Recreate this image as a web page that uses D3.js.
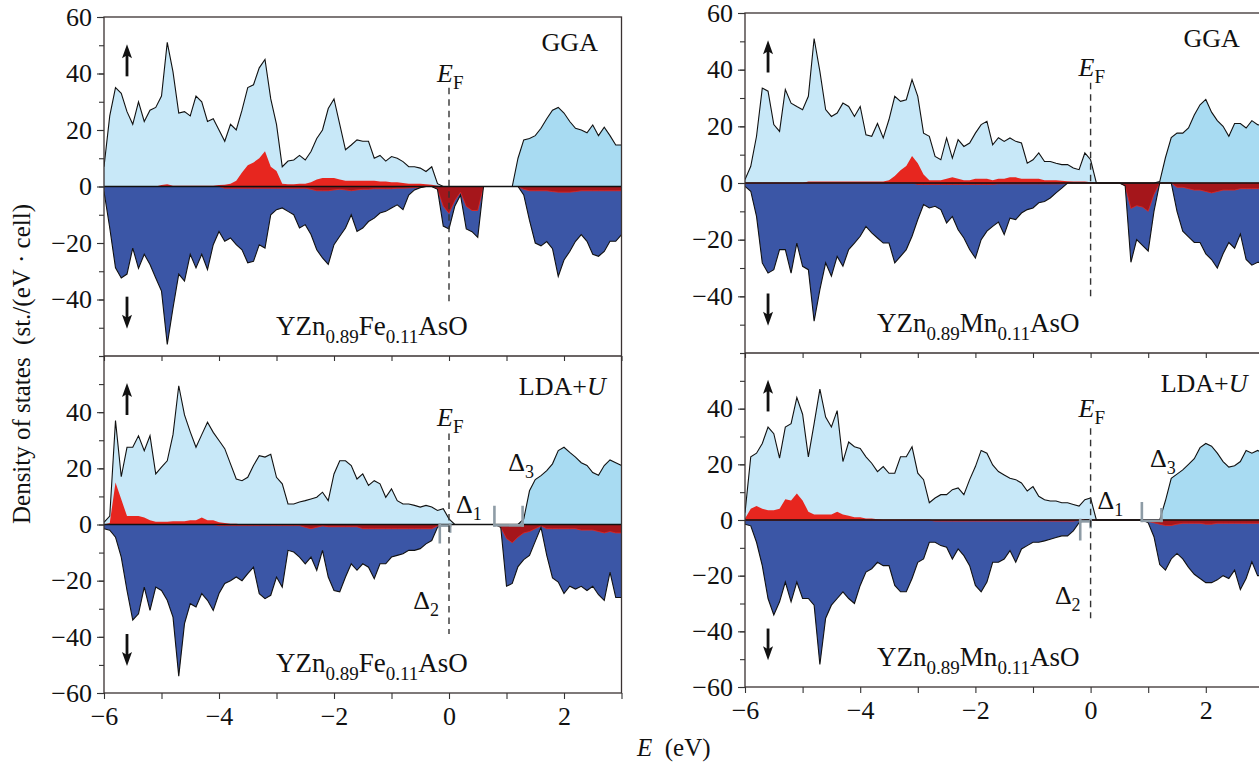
<!DOCTYPE html>
<html>
<head>
<meta charset="utf-8">
<script src="https://cdn.jsdelivr.net/npm/d3@7"></script>
<style>
  body { margin: 0; background: #fff; }
  svg { display: block; }
</style>
</head>
<body>
<svg id="chart" width="1259" height="762"></svg>
<script>
// energy grid, eV
var energy = [
  -6.0,-5.9,-5.8,-5.7,-5.6,-5.5,-5.4,-5.3,-5.2,-5.1,
  -5.0,-4.9,-4.8,-4.7,-4.6,-4.5,-4.4,-4.3,-4.2,-4.1,
  -4.0,-3.9,-3.8,-3.7,-3.6,-3.5,-3.4,-3.3,-3.2,-3.1,
  -3.0,-2.9,-2.8,-2.7,-2.6,-2.5,-2.4,-2.3,-2.2,-2.1,
  -2.0,-1.9,-1.8,-1.7,-1.6,-1.5,-1.4,-1.3,-1.2,-1.1,
  -1.0,-0.9,-0.8,-0.7,-0.6,-0.5,-0.4,-0.3,-0.2,-0.1,
  0.0,0.1,0.2,0.3,0.4,0.5,0.6,0.7,0.8,0.9,
  1.0,1.1,1.2,1.3,1.4,1.5,1.6,1.7,1.8,1.9,
  2.0,2.1,2.2,2.3,2.4,2.5,2.6,2.7,2.8,2.9,
  3.0
];

// YZn0.89Fe0.11AsO, GGA  (total spin up / down, Fe partial up / down)
var feUpGGA = [
  7,25,35,33,26.5,22,30,23,27,28,
  32,51,40.6,26,26.5,25,32,30,23,24,
  20,16,22,20,27,35,36,42,45,31,
  22,7,9,9.4,11,9.4,12.4,17,20,27.6,
  31,22,13,14.7,16.5,16,16,10,11,9,
  10.6,10,8.8,7,7,6.5,5.3,7,1,0,
  0,0,0,0,0,0,0,0,0,0,
  0,0,10,16.5,17,18,20.6,24,27,28,
  26,23,20.6,20,19,21.8,18,21,18,14.7,
  14.7
];
var feDnGGA = [
  -1.8,-14.7,-28.8,-32.4,-31,-21.8,-29,-24,-27.6,-32.4,
  -37,-55.9,-43,-31,-33.5,-24,-28.8,-24,-29.4,-20.6,
  -15.9,-19.4,-18.2,-20.6,-22.4,-27,-26.5,-20.6,-21.8,-10,
  -8.2,-7.6,-8.8,-10,-14.7,-13.5,-17,-22.4,-25.3,-27.6,
  -20.6,-17.6,-14.7,-10,-15.9,-14.7,-12.4,-11.2,-9.4,-8.8,
  -7.6,-6.5,-8.2,-3,-1.2,-0.4,0,0,-1,-14,
  -15,-7,-3,-15,-16,-18,0,0,0,0,
  0,0,0,-3,-12,-20,-21,-19.5,-22,-31.8,
  -26,-23,-19.4,-17,-19.4,-24,-24.7,-23,-19.4,-19.4,
  -17
];
var feUpGGAp = [
  0,0,0,0,0,0,0,0,0,0,
  0.5,0.8,0.3,0.3,0.3,0.3,0.3,0.3,0.3,0.3,
  0.5,0.6,1,2,5,7.5,8.5,10,12.5,7,
  5.5,1,0.8,0.8,1,1,1.5,2.5,3,3,
  3,2.5,2,2,2,2,2,2,1.8,1.8,
  1.5,1.5,1.2,1,1,1,0.8,0.6,0.3,0,
  0,0,0,0,0,0,0,0,0,0,
  0,0,0,0,0,0,0,0,0,0,
  0,0,0,0,0,0,0,0,0,0,
  0
];
var feDnGGAp = [
  0,0,0,0,0,0,0,0,0,0,
  0,0,0,0,0,0,0,0,0,0,
  0,-0.6,-0.6,-0.6,-0.6,-0.6,-0.6,-0.6,-0.6,-0.6,
  -0.6,-0.6,-0.6,-0.6,-0.6,-0.6,-1,-1.5,-1.5,-1.5,
  -1.2,-1,-1.2,-1.5,-1.2,-1,-1,-0.8,-0.8,-0.8,
  -0.8,-0.6,-0.6,-0.5,-0.4,-0.3,0,0,-0.8,-7,
  -9.5,-5,-2,-7,-8.5,-8.5,0,0,0,0,
  0,0,0,-1,-1.5,-1.5,-1.5,-1.5,-1.8,-2,
  -2,-2,-1.8,-1.5,-1.5,-1.5,-1.5,-1.5,-1.5,-1.5,
  -1.5
];

// YZn0.89Fe0.11AsO, LDA+U
var feUpLDA = [
  0.8,3,37,17,27.5,27.5,31.6,26.3,31.6,18,
  20.4,22.7,32,49.4,39,33,27.5,32,36.4,32.8,
  29.9,27,21.6,16.2,15.6,16.8,21,24.5,24,25,
  16.8,14.5,7.3,7.3,8,8.5,9.1,9.7,11.5,8.5,
  18,22.7,22.7,21,16.2,18,13.9,15.6,14.5,9.7,
  12.7,8.5,7.3,7.3,6.8,6.2,6.8,6.2,5,5.6,
  2,0,0,0,0,0,0,0,0,0,
  0,0,0,2,12,16,17.4,19.2,21.6,26.3,
  27.5,25.7,24,22,21,18.5,17.5,21,23,22,
  21
];
var feDnLDA = [
  -1.5,-2,-4.5,-11.6,-23.5,-34,-31.8,-22.3,-30.6,-22.3,
  -23.5,-27,-33,-54,-35.3,-28.2,-29.4,-24.6,-27,-30.6,
  -24.6,-21,-20,-18.7,-20,-17.5,-15.2,-24.6,-26.4,-25.2,
  -18.7,-22.3,-9.2,-9.8,-11.6,-14,-11.6,-16.3,-9.2,-18.7,
  -23.5,-24,-18.7,-14,-16.3,-14,-15.2,-19.3,-14,-14,
  -11.6,-11,-10.4,-9.2,-9.2,-8.6,-6.9,-5.7,-1,0,
  0,0,0,0,0,0,0,0,0,-1,
  -22,-21,-15,-12.5,-11,-6,-1,-11,-19,-20.5,
  -24.6,-22,-23,-22,-23.5,-22,-25,-27,-17,-26,
  -26
];
var feUpLDAp = [
  0,0.5,15,9,3,3,3,2.5,1.5,1,
  1,1,1.2,1.2,1.2,1.5,1.5,2.5,1.5,1.5,
  0.8,0.5,0.3,0.3,0,0,0,0,0,0,
  0,0,0,0,0,0,0,0,0,0,
  0,0,0,0,0,0,0,0,0,0,
  0,0,0,0,0,0,0,0,0,0,
  0,0,0,0,0,0,0,0,0,0,
  0,0,0,0,0,0,0,0,0,0,
  0,0,0,0,0,0,0,0,0,0,
  0
];
var feDnLDAp = [
  0,0,0,0,0,0,0,0,0,0,
  0,0,0,0,0,0,0,0,0,0,
  -0.4,-0.4,-0.4,-0.4,-0.4,-0.4,-0.4,-0.4,-0.4,-0.4,
  -0.4,-0.4,-0.4,-0.4,-0.4,-1,-1.5,-1,-0.5,-0.8,
  -0.8,-0.8,-0.8,-0.8,-0.8,-1.5,-1.5,-1.5,-1.5,-1.5,
  -1.5,-1.5,-1.5,-1.5,-1.5,-1.5,-1.5,-1.5,-0.5,0,
  0,0,0,0,0,0,0,0,0,-1,
  -5,-6.5,-4.5,-3,-2.5,-1.5,-0.5,-1.5,-1.5,-1.5,
  -1.5,-1.5,-1.5,-2,-2,-2,-2.5,-3,-2.5,-3,
  -3
];

// YZn0.89Mn0.11AsO, GGA
var mnUpGGA = [
  1.2,5.9,16.5,33.5,32.4,20.6,18.2,33,28.2,27,
  25.9,30.6,51,39.4,25.9,23.5,24.7,28.2,27,23.5,
  27,17,16.5,21,15.9,22.4,30.6,28.8,29.4,36.5,
  30.6,17.6,16.5,9.4,8.2,15.9,8.8,15.3,12.9,14.1,
  17.6,20.6,21.8,13.5,16,14.7,15.9,14.7,14.1,7,
  8.2,10.6,7.6,7.6,7,6.5,6.5,5.3,4.7,10.6,
  8.2,0,0,0,0,0,0,0,0,0,
  0,0,0.5,9,16,17.6,17.6,19.4,24,27.6,
  29.5,25,22,20,16.5,21,21,19.4,22,20.6,
  20
];
var mnDnGGA = [
  -1.2,-2.9,-11.8,-28.2,-31.8,-30.6,-23.5,-23.5,-31.8,-21.2,
  -29.4,-30.6,-48.8,-37.6,-28.2,-32.9,-25.9,-29.4,-23.5,-21.2,
  -18.8,-15.3,-17.6,-19.4,-21.2,-21.2,-28.2,-25.9,-23.5,-18.8,
  -12.9,-7.6,-8.8,-8.2,-9.4,-14.1,-11.8,-16.5,-19.4,-23.5,
  -26.5,-20,-17,-15.3,-13.8,-18.2,-12.4,-12.9,-10.6,-9.4,
  -8.8,-7,-6.5,-5.3,-3.5,-1.8,0,0,0,0,
  0,0,0,0,0,0,-1,-28,-20,-22,
  -24,-10,0,0,0,-10,-17,-19,-21,-21,
  -25,-27,-30,-25,-21,-23,-18,-27,-29,-28,
  -28
];
var mnUpGGAp = [
  0,0,0,0,0,0,0,0,0,0,
  0,0.5,0.5,0.5,0.5,0.5,0.5,0.5,0.5,0.5,
  0.5,0.5,0.5,0.5,0.5,1,2.5,4.5,6,9.5,
  7,3,1,1,1,1.5,2,1.5,1,1,
  1.5,1.5,1.5,1,1.5,1.5,2,2,1.5,1.5,
  1.5,1.5,1,1,1,0.8,0.6,0.5,0.5,0.5,
  0.3,0,0,0,0,0,0,0,0,0,
  0,0,0,0,0,0,0,0,0,0,
  0,0,0,0,0,0,0,0,0,0,
  0
];
var mnDnGGAp = [
  0,0,0,0,0,0,0,0,0,0,
  0,0,0,0,0,0,0,0,0,0,
  0,0,0,0,0,0,0,0,0,0,
  -0.5,-0.5,-0.5,-0.5,-0.5,-0.5,-0.5,-0.5,-0.5,-0.5,
  -0.5,-0.5,-0.5,-0.5,-0.3,-0.3,-0.3,-0.3,-0.3,-0.3,
  -0.3,-0.3,-0.3,-0.3,-0.3,-0.3,0,0,0,0,
  0,0,0,0,0,0,-1,-9,-8,-8.5,
  -10,-4,0,0,0,-1.5,-1.5,-2,-2.5,-2.5,
  -3,-3.5,-3,-2.5,-2.5,-2.5,-2,-2,-2,-2,
  -2
];

// YZn0.89Mn0.11AsO, LDA+U
var mnUpLDA = [
  2.6,22.7,24,27.5,33.4,31,22.2,33.4,34.6,44,
  38,22.7,34.6,47,37,33.4,39.3,21,28,26.3,
  25.7,22.7,20.4,17.4,19.2,16.8,16.8,22.7,22.7,26.3,
  16.8,14.5,6.2,7.9,9.1,9.1,10.9,11.5,9.1,14.5,
  19.2,25,24,19.8,17.4,16.2,15,14.5,13.3,10.4,
  12,8.5,7.3,6.8,6.8,6.2,6.2,5.6,5,7.3,
  7.9,0,0,0,0,0,0,0,0,0,
  0,0,0,7,15,16.5,18,20,22,26,
  27.5,26.5,24,21,19,19.5,21,25,24,25,
  24
];
var mnDnLDA = [
  -1.5,-2.1,-8,-16.4,-28.2,-34.1,-29.4,-22.3,-29.4,-22.3,
  -28.2,-28.2,-30.6,-51.9,-35.3,-30.6,-28.2,-25.8,-28.2,-30,
  -23.5,-18.7,-17.5,-15.2,-16.4,-16.4,-23.5,-25.8,-25.8,-21,
  -15.2,-14,-8,-8,-9.2,-9.8,-14,-10.4,-12.8,-16.4,
  -23.5,-25.8,-22.3,-15.2,-15.2,-14,-11,-15.2,-10.4,-9.2,
  -8,-8,-7.5,-6.9,-6.3,-5.7,-5.7,-3.9,-1,0,
  0,0,0,0,0,0,0,0,0,0,
  -1,-6,-16,-18,-14,-12,-14,-17,-19.5,-21,
  -22.5,-22.5,-21.5,-20,-21,-18,-25,-21,-15,-20,
  -20
];
var mnUpLDAp = [
  0.5,4,5,4,3.5,3.5,4,7.5,7,9.5,
  7,3,2,2,2,2,3,2,1.5,1,
  1,0.5,0.5,0.3,0,0,0,0,0,0,
  0,0,0,0,0,0,0,0,0,0,
  0,0,0,0,0,0,0,0,0,0,
  0,0,0,0,0,0,0,0,0,0,
  0,0,0,0,0,0,0,0,0,0,
  0,0,0,0,0,0,0,0,0,0,
  0,0,0,0,0,0,0,0,0,0,
  0
];
var mnDnLDAp = [
  0,0,0,0,0,0,0,0,0,0,
  0,0,0,0,0,0,0,0,0,0,
  0,0,0,0,0,0,0,0,0,0,
  0,0,0,-0.4,-0.4,-0.4,-0.4,-0.4,-0.4,-0.4,
  -0.4,-0.4,-0.4,-0.4,-0.4,-0.4,-0.4,-0.4,-0.4,-0.4,
  -0.4,-0.4,-0.4,-0.4,-0.4,-0.4,-0.4,-0.4,0,0,
  0,0,0,0,0,0,0,0,0,0,
  -0.5,-1,-1.5,-2,-2,-1.5,-1.2,-1.2,-1.2,-1.2,
  -1.5,-1.5,-1.2,-1.2,-1.2,-1.2,-1.2,-1.2,-1.2,-1.2,
  -1.2
];

// axis ticks
var xTicks = [-6, -5, -4, -3, -2, -1, 0, 1, 2, 3];
var xTickLabels = [-6, -4, -2, 0, 2];
var yMinorTicks = [-60, -50, -40, -30, -20, -10, 0, 10, 20, 30, 40, 50, 60];
var yLabelsTop = [60, 40, 20, 0, -20, -40];
var yLabelsBottom = [40, 20, 0, -20, -40, -60];

var font = '"Liberation Serif", "Times New Roman", serif';
var C = {
  upVal: '#c8e8f8', upCond: '#a8dbf2', dnBlue: '#3b56a6',
  red: '#e7261f', darkRed: '#a5161b', ink: '#111', frame: '#3a3232', gray: '#8e9ca6'
};

var svg = d3.select('#chart').attr('font-family', font);

// two columns of stacked panels
var frames = [
  { x0: 104, x1: 621.5, yT: 17, yM: 356, yB: 693 },
  { x0: 745, x1: 1263.4, yT: 13, yM: 353, yB: 687 }
];

var panels = [
  { id: 'tl', f: 0, top: true, up: feUpGGA, dn: feDnGGA, upP: feUpGGAp, dnP: feDnGGAp,
    method: 'GGA', metal: 'Fe', formulaE: -1.34, ef: [35, -42, 37] },
  { id: 'bl', f: 0, top: false, up: feUpLDA, dn: feDnLDA, upP: feUpLDAp, dnP: feDnLDAp,
    method: 'LDA', metal: 'Fe', formulaE: -1.34, ef: [32.4, -39, 35],
    marks: [[[-0.16, 0], [-0.16, -6.3]], [[-0.16, -0.4], [0.02, -0.4]], [[0.02, 0], [0.02, -2.5]],
            [[0.79, 6.2], [0.79, -0.3]], [[0.79, -0.3], [1.28, -0.3]], [[1.28, -0.3], [1.28, 6.2]]] },
  { id: 'tr', f: 1, top: true, up: mnUpGGA, dn: mnDnGGA, upP: mnUpGGAp, dnP: mnDnGGAp,
    method: 'GGA', metal: 'Mn', formulaE: -1.95, ef: [35.4, -41, 37.7] },
  { id: 'br', f: 1, top: false, up: mnUpLDA, dn: mnDnLDA, upP: mnUpLDAp, dnP: mnDnLDAp,
    method: 'LDA', metal: 'Mn', formulaE: -1.95, ef: [33, -35.3, 37],
    marks: [[[-0.18, 0], [-0.18, -6.9]], [[-0.18, -0.5], [0, -0.5]], [[0, 0], [0, -2.5]],
            [[0.89, 6], [0.89, -0.3]], [[0.89, -0.3], [1.23, -0.3]], [[1.23, -0.3], [1.23, 3.8]]] }
];

function richText(g, x, y, parts, size, subSize, anchor) {
  var t = g.append('text').attr('x', x).attr('y', y)
    .attr('font-size', size).attr('text-anchor', anchor || 'start').attr('fill', C.ink);
  var shift = 0;
  parts.forEach(function(pt) {
    var s = t.append('tspan').text(pt.t);
    var target = pt.sub ? Math.round(size * 0.28) : 0;
    if (target !== shift) { s.attr('dy', target - shift); shift = target; }
    if (pt.sub) s.attr('font-size', subSize);
    if (pt.it) s.attr('font-style', 'italic');
  });
  return t;
}

function arrow(g, cx, yTail, yTip) {
  var dir = yTip < yTail ? 1 : -1;
  g.append('line').attr('x1', cx).attr('x2', cx).attr('y1', yTail).attr('y2', yTip + dir * 8)
    .attr('stroke', C.ink).attr('stroke-width', 2.8);
  g.append('path')
    .attr('d', 'M' + cx + ',' + (yTip - dir) + 'L' + (cx + 5) + ',' + (yTip + dir * 13) + 'L' + cx + ',' + (yTip + dir * 10) +
      'L' + (cx - 5) + ',' + (yTip + dir * 13) + 'Z')
    .attr('fill', C.ink);
}

function styleAxis(a) {
  a.attr('font-family', null).attr('font-size', null);
  a.select('.domain').remove();
  a.selectAll('line').attr('stroke', '#333').attr('stroke-width', 1.1);
  a.selectAll('text').attr('font-size', 26).attr('fill', C.ink);
}

function drawPanel(p) {
  var fr = frames[p.f];
  var yT = p.top ? fr.yT : fr.yM, yB = p.top ? fr.yM : fr.yB;
  var x = d3.scaleLinear().domain([-6, 3]).range([fr.x0, fr.x1]);
  var y = d3.scaleLinear().domain([-60, 60]).range([yB, yT]);
  var g = svg.append('g').attr('class', 'panel-' + p.id);

  svg.append('clipPath').attr('id', 'clip-' + p.id).append('rect')
    .attr('x', fr.x0).attr('y', yT).attr('width', fr.x1 - fr.x0).attr('height', yB - yT);
  var plot = g.append('g').attr('clip-path', 'url(#clip-' + p.id + ')');

  var ex = function(d, i) { return x(energy[i]); };
  var ey = function(d) { return y(d); };
  var area = d3.area().x(ex).y0(y(0)).y1(ey);
  var line = d3.line().x(ex).y(ey);

  // spin up: valence and conduction parts
  plot.append('path').attr('fill', C.upVal)
    .attr('d', area.defined(function(d, i) { return energy[i] <= 0.6; })(p.up));
  plot.append('path').attr('fill', C.upCond)
    .attr('d', area.defined(function(d, i) { return energy[i] >= 0.6; })(p.up));
  area.defined(function() { return true; });
  plot.append('path').attr('fill', C.red).attr('d', area(p.upP));

  // spin down
  plot.append('path').attr('fill', C.dnBlue).attr('d', area(p.dn));
  plot.append('path').attr('fill', C.darkRed).attr('stroke', C.red).attr('stroke-width', 0.8)
    .attr('d', area(p.dnP));

  plot.append('path').attr('fill', 'none').attr('stroke', C.ink).attr('stroke-width', 1.1).attr('d', line(p.up));
  plot.append('path').attr('fill', 'none').attr('stroke', C.ink).attr('stroke-width', 1.1).attr('d', line(p.dn));

  plot.append('line').attr('x1', fr.x0).attr('x2', fr.x1).attr('y1', y(0)).attr('y2', y(0))
    .attr('stroke', C.ink).attr('stroke-width', 1.3);

  // gap markers
  (p.marks || []).forEach(function(m) {
    plot.append('line').attr('x1', x(m[0][0])).attr('y1', y(m[0][1])).attr('x2', x(m[1][0])).attr('y2', y(m[1][1]))
      .attr('stroke', C.gray).attr('stroke-width', 2.6).attr('stroke-linecap', 'square');
  });

  // Fermi level
  g.append('line').attr('x1', x(0)).attr('x2', x(0)).attr('y1', y(p.ef[0])).attr('y2', y(p.ef[1]))
    .attr('stroke', '#333').attr('stroke-width', 1.4).attr('stroke-dasharray', '6.5,5');
  richText(g, x(0) - 12, y(p.ef[2]), [{ t: 'E', it: 1 }, { t: 'F', sub: 1 }], 26, 19);

  // spin arrows
  arrow(g, x(-5.6), y(39), y(50));
  arrow(g, x(-5.6), y(-39), y(-50));

  // labels
  if (p.method === 'GGA') {
    richText(g, x(2.1), y(48), [{ t: 'GGA' }], 26, 18, 'middle');
  } else {
    richText(g, x(1.97), y(46), [{ t: 'LDA+' }, { t: 'U', it: 1 }], 26, 18, 'middle');
    richText(g, x(0.12), y(4), [{ t: 'Δ' }, { t: '1', sub: 1 }], 26, 18);
    richText(g, x(-0.62), y(-30), [{ t: 'Δ' }, { t: '2', sub: 1 }], 26, 18);
    richText(g, x(1.03), y(19), [{ t: 'Δ' }, { t: '3', sub: 1 }], 26, 18);
  }
  richText(g, x(p.formulaE), y(-52.5),
    [{ t: 'YZn' }, { t: '0.89', sub: 1 }, { t: p.metal }, { t: '0.11', sub: 1 }, { t: 'AsO' }], 27, 19, 'middle');

  // y axis
  var yMinor = g.append('g').attr('transform', 'translate(' + fr.x0 + ',0)')
    .call(d3.axisLeft(y).tickValues(yMinorTicks).tickSize(5).tickFormat(''));
  styleAxis(yMinor);
  var yMajor = g.append('g').attr('transform', 'translate(' + fr.x0 + ',0)')
    .call(d3.axisLeft(y).tickValues(p.top ? yLabelsTop : yLabelsBottom).tickSize(7).tickPadding(5)
      .tickFormat(d3.format('d')));
  styleAxis(yMajor);

  // x axis (labels only on the lower panel)
  var xa = g.append('g').attr('transform', 'translate(0,' + yB + ')')
    .call(d3.axisBottom(x).tickValues(xTicks).tickSize(p.top ? 5 : 6).tickPadding(8)
      .tickFormat(function(d) { return (!p.top && xTickLabels.indexOf(d) >= 0) ? d3.format('d')(d) : ''; }));
  styleAxis(xa);
}

panels.forEach(drawPanel);

// frames
frames.forEach(function(fr) {
  svg.append('rect').attr('x', fr.x0).attr('y', fr.yT).attr('width', fr.x1 - fr.x0).attr('height', fr.yB - fr.yT)
    .attr('fill', 'none').attr('stroke', C.frame).attr('stroke-width', 1.3);
  svg.append('line').attr('x1', fr.x0).attr('x2', fr.x1).attr('y1', fr.yM).attr('y2', fr.yM)
    .attr('stroke', C.frame).attr('stroke-width', 1.3);
});

// axis titles
svg.append('text').attr('transform', 'translate(30,364) rotate(-90)').attr('text-anchor', 'middle')
  .attr('font-size', 25).attr('fill', C.ink)
  .text('Density of states\u00a0\u00a0(st./(eV\u00a0·\u00a0cell)');
var xt = svg.append('text').attr('x', 637).attr('y', 756).attr('font-size', 25).attr('fill', C.ink);
xt.append('tspan').attr('font-style', 'italic').text('E');
xt.append('tspan').text('\u00a0\u00a0(eV)');
</script>
</body>
</html>
